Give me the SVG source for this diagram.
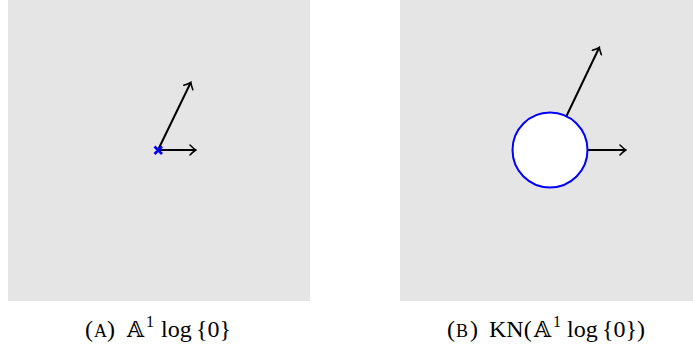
<svg xmlns="http://www.w3.org/2000/svg" width="693" height="350" viewBox="0 0 693 350">
<style>
.panel{fill:#e5e5e5}
.edge{stroke:#000;stroke-width:2;fill:none;marker-end:url(#arr)}
.cap{font-family:"Liberation Serif","DejaVu Serif",serif;font-size:24px;fill:#000}
.bb{font-family:"DejaVu Serif","DejaVu Sans",serif;font-size:22px}
.sc{font-size:18px}
.sup{font-size:16px}
</style>
<defs>
<marker id="arr" viewBox="-6 -6 8 12" markerWidth="8" markerHeight="12" refX="0" refY="0" orient="auto" markerUnits="userSpaceOnUse">
<path d="M-5,-5 Q-1,-1 0.8,0 Q-1,1 -5,5" fill="none" stroke="#000" stroke-width="1.6" stroke-linecap="round"/>
</marker>
</defs>
<g id="panelA">
<rect class="panel" x="8" y="0" width="302" height="301"/>
</g>
<g id="panelB">
<rect class="panel" x="400" y="0" width="293" height="301"/>
</g>
<g id="connectors">
<line class="edge" x1="158" y1="150" x2="195" y2="150"/>
<line class="edge" x1="158" y1="150" x2="190.5" y2="83"/>
<line class="edge" x1="588" y1="150" x2="625" y2="150"/>
<line class="edge" x1="566.5" y1="116" x2="599" y2="48"/>
</g>
<g id="pointA">
<path d="M154.5,146.5 L162,154 M162,146.5 L154.5,154" stroke="#0000ff" stroke-width="2.6"/>
</g>
<g id="circleB">
<circle cx="550" cy="150" r="37.5" fill="#fff" stroke="#0000ff" stroke-width="2"/>
</g>
<g id="captionA">
<text class="cap" y="337"><tspan x="85">(</tspan><tspan x="94" class="sc">A</tspan><tspan x="107">)</tspan><tspan x="127" class="bb">𝔸</tspan><tspan x="146" y="327" class="sup">1</tspan><tspan x="161" y="337">log</tspan><tspan x="196">{0}</tspan></text>
</g>
<g id="captionB">
<text class="cap" y="337"><tspan x="447">(</tspan><tspan x="456" class="sc">B</tspan><tspan x="470">)</tspan><tspan x="489">KN(</tspan><tspan x="534" class="bb">𝔸</tspan><tspan x="553" y="327" class="sup">1</tspan><tspan x="567" y="337">log</tspan><tspan x="602">{0})</tspan></text>
</g>
</svg>
